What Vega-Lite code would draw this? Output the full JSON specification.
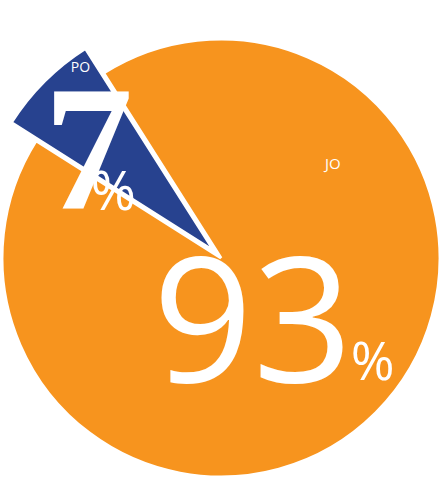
{
  "$schema": "https://vega.github.io/schema/vega-lite/v6.json",
  "width": 440,
  "height": 440,
  "autosize": {"type": "none"},
  "padding": {"left": 1, "top": 38, "right": 0, "bottom": 0},
  "background": "white",
  "config": {"view": {"stroke": null}},
  "data": {"values": [
    {"category": "JO", "value": 93},
    {"category": "PO", "value": 7}
  ]},
  "encoding": {
    "theta": {"field": "value", "type": "quantitative", "stack": true, "scale": {"range": [-0.5655, 5.7177]}},
    "order": {"field": "category", "type": "ordinal", "sort": "ascending"}
  },
  "layer": [
    {
      "mark": {"type": "arc", "radius": 219, "stroke": "white", "strokeWidth": 3},
      "encoding": {
        "color": {"field": "category", "type": "nominal", "scale": {"domain": ["JO", "PO"], "range": ["#F7941E", "#27428F"]}, "legend": null},
        "opacity": {"condition": {"test": "datum.category === 'JO'", "value": 1}, "value": 0}
      }
    },
    {
      "mark": {"type": "arc", "radius": 240, "xOffset": -7, "yOffset": -7, "stroke": "white", "strokeWidth": 3},
      "encoding": {
        "color": {"field": "category", "type": "nominal", "legend": null},
        "opacity": {"condition": {"test": "datum.category === 'PO'", "value": 1}, "value": 0}
      }
    },
    {
      "mark": {"type": "text", "radius": 230, "dx": 22, "dy": -27, "font": "Open Sans", "fontSize": 14, "fill": "white", "align": "center", "baseline": "middle"},
      "encoding": {
        "detail": {"field": "category", "type": "nominal"},
        "text": {"condition": {"test": "datum.category === 'PO'", "field": "category", "type": "nominal"}, "value": ""}
      }
    },
    {
      "mark": {"type": "text", "radius": 125, "dx": -44, "dy": 38, "font": "Liberation Sans Narrow", "fontWeight": "bold", "fontSize": 178, "fill": "white", "align": "center", "baseline": "alphabetic"},
      "encoding": {
        "detail": {"field": "category", "type": "nominal"},
        "text": {"condition": {"test": "datum.category === 'PO'", "field": "value", "type": "quantitative"}, "value": ""}
      }
    },
    {
      "mark": {"type": "text", "radius": 125, "dx": -42, "dy": 40, "font": "Open Sans", "fontSize": 55, "fill": "white", "align": "left", "baseline": "alphabetic"},
      "encoding": {
        "detail": {"field": "category", "type": "nominal"},
        "text": {"condition": {"test": "datum.category === 'PO'", "value": "%"}, "value": ""}
      }
    },
    {
      "mark": {"type": "text", "radius": 110, "dx": 34, "dy": -172, "font": "Open Sans", "fontSize": 15, "fill": "white", "align": "center", "baseline": "middle"},
      "encoding": {
        "detail": {"field": "category", "type": "nominal"},
        "text": {"condition": {"test": "datum.category === 'JO'", "field": "category", "type": "nominal"}, "value": ""}
      }
    },
    {
      "mark": {"type": "text", "radius": 110, "dx": -46, "dy": 46, "font": "Open Sans", "fontSize": 175, "fill": "white", "align": "center", "baseline": "alphabetic"},
      "encoding": {
        "detail": {"field": "category", "type": "nominal"},
        "text": {"condition": {"test": "datum.category === 'JO'", "field": "value", "type": "quantitative"}, "value": ""}
      }
    },
    {
      "mark": {"type": "text", "radius": 110, "dx": 52, "dy": 44, "font": "Open Sans", "fontSize": 53, "fill": "white", "align": "left", "baseline": "alphabetic"},
      "encoding": {
        "detail": {"field": "category", "type": "nominal"},
        "text": {"condition": {"test": "datum.category === 'JO'", "value": "%"}, "value": ""}
      }
    }
  ]
}
